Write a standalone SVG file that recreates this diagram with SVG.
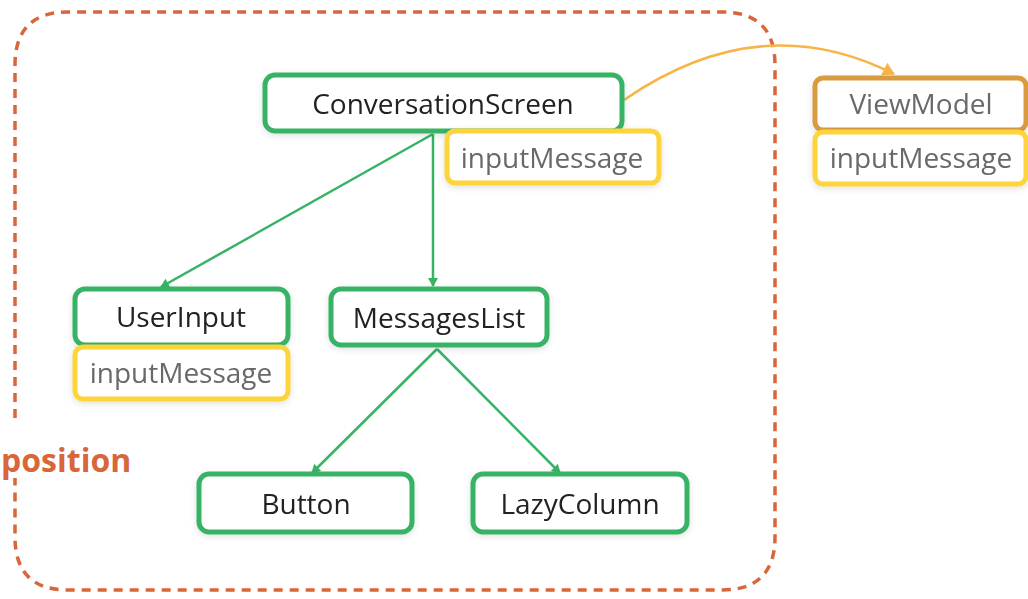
<svg xmlns="http://www.w3.org/2000/svg" width="1028" height="599" viewBox="0 0 1028 599">
<defs>
<style>
.g{fill:#fff;stroke:#38B365;stroke-width:5}
.y{fill:#fff;stroke:#FDD43A;stroke-width:5}
.o{fill:#fff;stroke:#D99B3F;stroke-width:5}
.t{font-family:"Open Sans","Liberation Sans",sans-serif;font-size:28px;text-anchor:middle;dominant-baseline:central;fill:#202124}
.s{fill:#696969}
.c{fill:none;stroke:#38B365;stroke-width:2.5}
</style>
<marker id="ag" markerWidth="10" markerHeight="10" refX="8" refY="5" orient="auto" markerUnits="userSpaceOnUse"><path d="M0,0 L9,5 L0,10 z" fill="#38B365"/></marker>
<marker id="ao" markerWidth="14" markerHeight="14" refX="11" refY="7" orient="auto" markerUnits="userSpaceOnUse"><path d="M0,0 L12,7 L0,14 z" fill="#F8B447"/></marker>
<filter id="sh" x="-10%" y="-20%" width="120%" height="150%"><feDropShadow dx="0" dy="2" stdDeviation="3" flood-color="#000" flood-opacity="0.12"/></filter>
</defs>
<g id="frame">
<path d="M15,418 V65 Q15,12 68,12 H722 Q775,12 775,65 V537 Q775,590 722,590 H68 Q15,590 15,537 V478" fill="none" stroke="#D9663A" stroke-width="3.5" stroke-dasharray="9,7"/>
<text x="1" y="472" font-family="'Open Sans','Liberation Sans',sans-serif" font-weight="bold" font-size="32" fill="#D9663A">position</text>
</g>
<g id="connectors">
<line class="c" x1="433" y1="134" x2="161" y2="287" marker-end="url(#ag)"/>
<line class="c" x1="433" y1="134" x2="433" y2="286" marker-end="url(#ag)"/>
<line class="c" x1="437" y1="349" x2="312" y2="473" marker-end="url(#ag)"/>
<line class="c" x1="437" y1="349" x2="560" y2="473" marker-end="url(#ag)"/>
<path d="M624,100 Q760,6 894,74" fill="none" stroke="#F8B447" stroke-width="2.5" marker-end="url(#ao)"/>
</g>
<g id="conversationScreen" filter="url(#sh)">
<rect class="g" x="265" y="75" width="357" height="56" rx="10"/>
<text class="t" x="443" y="103">ConversationScreen</text>
</g>
<g id="csInputMessage" filter="url(#sh)">
<rect class="y" x="447" y="131" width="212" height="52" rx="8"/>
<text class="t s" x="552" y="157">inputMessage</text>
</g>
<g id="viewModel" filter="url(#sh)">
<rect class="o" x="815" y="78" width="211" height="52" rx="8"/>
<text class="t s" x="921" y="103">ViewModel</text>
</g>
<g id="vmInputMessage" filter="url(#sh)">
<rect class="y" x="815" y="132" width="211" height="52" rx="8"/>
<text class="t s" x="921" y="157">inputMessage</text>
</g>
<g id="userInput" filter="url(#sh)">
<rect class="g" x="75" y="289" width="213" height="56" rx="10"/>
<text class="t" x="181" y="316">UserInput</text>
</g>
<g id="uiInputMessage" filter="url(#sh)">
<rect class="y" x="75" y="347" width="213" height="52" rx="8"/>
<text class="t s" x="181" y="372">inputMessage</text>
</g>
<g id="messagesList" filter="url(#sh)">
<rect class="g" x="331" y="289" width="216" height="56" rx="10"/>
<text class="t" x="439" y="317">MessagesList</text>
</g>
<g id="button" filter="url(#sh)">
<rect class="g" x="199" y="474" width="213" height="58" rx="10"/>
<text class="t" x="306" y="503">Button</text>
</g>
<g id="lazyColumn" filter="url(#sh)">
<rect class="g" x="473" y="474" width="214" height="58" rx="10"/>
<text class="t" x="580" y="503">LazyColumn</text>
</g>
</svg>
